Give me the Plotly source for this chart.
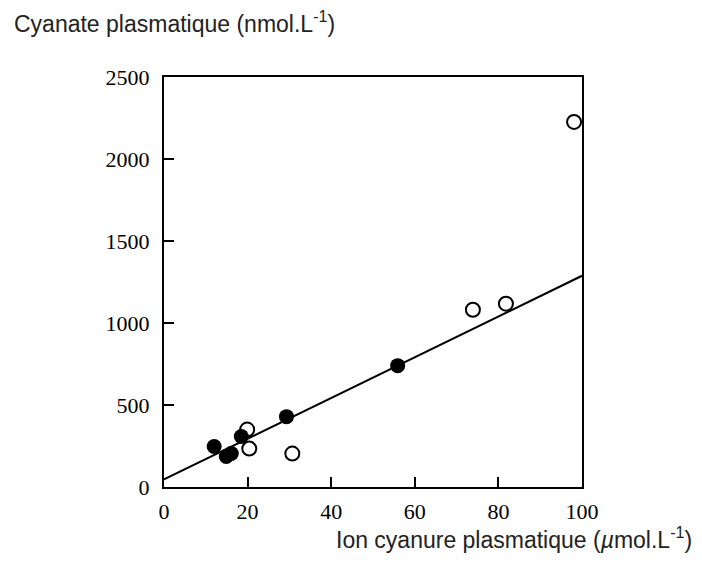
import plotly.graph_objects as go

# Data
closed_x = [12.0, 14.9, 16.1, 18.5, 29.3, 55.9]
closed_y = [247, 186, 204, 308, 429, 740]

open_x = [19.9, 20.4, 30.7, 73.9, 81.8, 98.1]
open_y = [350, 234, 204, 1081, 1118, 2226]

fit_x = [0, 100]
fit_y = [46, 1288]

x_ticks = [0, 20, 40, 60, 80, 100]
y_ticks = [0, 500, 1000, 1500, 2000, 2500]

y_title = "Cyanate plasmatique (nmol.L<sup>-1</sup>)"
x_title = "Ion cyanure plasmatique (<i>µ</i>mol.L<sup>-1</sup>)"

fig = go.Figure()
fig.add_trace(go.Scatter(x=fit_x, y=fit_y, mode="lines",
                         line=dict(color="black", width=2), showlegend=False,
                         cliponaxis=False))
fig.add_trace(go.Scatter(x=open_x, y=open_y, mode="markers",
                         marker=dict(symbol="circle", size=14, color="white",
                                     line=dict(color="black", width=2)),
                         showlegend=False, cliponaxis=False))
fig.add_trace(go.Scatter(x=closed_x, y=closed_y, mode="markers",
                         marker=dict(symbol="circle", size=15, color="black",
                                     line=dict(color="black", width=0)),
                         showlegend=False, cliponaxis=False))

tick_font = dict(family="Liberation Serif", size=22, color="black")
fig.update_xaxes(range=[0, 100], tickvals=x_ticks, ticktext=[str(v) for v in x_ticks],
                 ticks="inside", ticklen=10, tickwidth=1.5, tickcolor="black",
                 showline=True, linecolor="black", linewidth=2, mirror=True,
                 showgrid=False, zeroline=False, tickfont=tick_font,
                 ticklabelstandoff=4)
fig.update_yaxes(range=[0, 2500], tickvals=y_ticks, ticktext=[str(v) for v in y_ticks],
                 ticks="inside", ticklen=10, tickwidth=1.5, tickcolor="black",
                 showline=True, linecolor="black", linewidth=2, mirror=True,
                 showgrid=False, zeroline=False, tickfont=tick_font,
                 ticklabelstandoff=8)

title_font = dict(family="Liberation Sans", size=23, color="#222")
# page body has an 8px margin, so the figure starts at (8, 8)
W, H = 686, 546
L, T = 156, 69
R = W - 574
B = H - 479.5
pw = W - L - R
ph = H - T - B
fig.update_layout(
    width=W, height=H,
    margin=dict(l=L, r=R, t=T, b=B),
    plot_bgcolor="white", paper_bgcolor="white",
    annotations=[
        dict(text=y_title, xref="paper", yref="paper", x=(4 - L) / pw, y=1 + (T - 14) / ph,
             xanchor="left", yanchor="middle", showarrow=False, font=title_font),
        dict(text=x_title, xref="paper", yref="paper", x=(W - L) / pw, y=-(531 - (T + ph)) / ph,
             xanchor="right", yanchor="middle", showarrow=False, font=title_font),
    ],
)

fig.write_html("out.html")
